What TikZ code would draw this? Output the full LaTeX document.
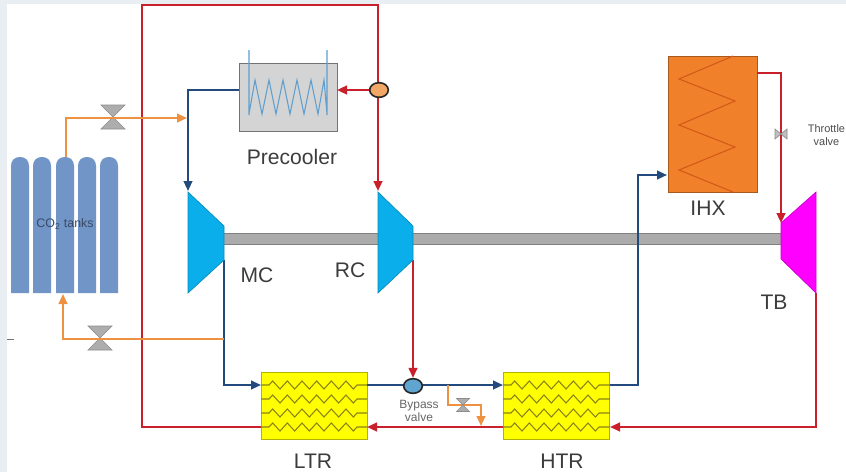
\documentclass[tikz,border=0pt]{standalone}
\usepackage{fontspec}
\setmainfont{Liberation Sans}
\usetikzlibrary{arrows.meta,decorations.pathmorphing,shapes.geometric}
\definecolor{redl}{HTML}{C9202B}
\definecolor{bluel}{HTML}{234A7C}
\definecolor{orangel}{HTML}{EE9140}
\definecolor{tankc}{HTML}{7095C6}
\definecolor{cyanT}{HTML}{0AAEEA}
\definecolor{coilz}{HTML}{8A8414}
\definecolor{txt}{HTML}{3C3C3C}
\definecolor{magT}{HTML}{FF00FF}
\definecolor{yelH}{HTML}{FFFF00}
\definecolor{ihxF}{HTML}{F0812A}
\definecolor{ihxC}{HTML}{D4581A}
\definecolor{preC}{HTML}{5F9FCF}
\definecolor{bgS}{HTML}{E9EEF2}
\definecolor{tankT}{HTML}{3A4A66}
\tikzset{
  x=0.75pt,y=-0.75pt,
  hot/.style={draw=redl,line width=1.6pt},
  cold/.style={draw=bluel,line width=1.5pt},
  feed/.style={draw=orangel,line width=1.5pt},
  arrowtip/.style={-{Triangle[length=7.5pt,width=6.5pt]}},
  hxbox/.style={draw=#1,line width=0.7pt,inner sep=0pt,anchor=north west},
  yellowhx/.style={hxbox=yelH!70!black,fill=yelH,minimum width=79.5pt,minimum height=50.5pt},
  zz/.style={draw=coilz,line width=0.8pt},
  zzline/.style={zz,decorate,decoration={zigzag,segment length=11pt,amplitude=3pt,pre length=6pt,post length=6pt}},
  lbl/.style={text=txt,font=\fontsize{15.8pt}{17pt}\selectfont,inner sep=0pt},
  smalllbl/.style={text=#1,font=\fontsize{9pt}{11pt}\selectfont,inner sep=0pt,align=center},
  smalllbl/.default=black!60,
  valvep/.style={fill=black!32,draw=black!45,line width=0.5pt},
  tank/.style={fill=tankc,draw=none},
  turb/.style={draw=#1!80!black,fill=#1,line width=0.5pt},
  circv/.style={ellipse,draw=black!85,line width=1.2pt,inner sep=0pt,minimum width=14pt,minimum height=11pt,fill=#1},
}
\newcommand{\valveshape}[3]{% x y half-height
  \draw[valvep] (#1-#3,#2-#3) -- (#1+#3,#2-#3) -- (#1-#3,#2+#3) -- (#1+#3,#2+#3) -- cycle;
}
\newcommand{\tankshape}[1]{%
  \fill[tank] (#1,293) -- (#1,166) .. controls (#1,160) and (#1+4,157) .. (#1+9,157) .. controls (#1+14,157) and (#1+18,160) .. (#1+18,166) -- (#1+18,293) -- cycle;
}
\begin{document}
\begin{tikzpicture}
\useasboundingbox (0,0) rectangle (846,472);
\clip (0,0) rectangle (846,472);
\fill[white] (0,0) rectangle (846,472);
\fill[bgS] (0,0) rectangle (846,4);
\fill[bgS] (0,0) rectangle (7,472);
\draw[black!55,line width=0.6pt] (7,339) -- (14,339);

% coordinates
\coordinate (tankTop) at (66,157);
\coordinate (feedC1) at (66,118);
\coordinate (feedEnd) at (187,118);
\coordinate (retEnd) at (63,294);
\coordinate (retC1) at (63,339);
\coordinate (mcTap) at (224,339);
\coordinate (topL) at (142,5);
\coordinate (topR) at (378,5);
\coordinate (botL) at (142,427);
\coordinate (rcIn) at (378,191);
\coordinate (mcIn) at (188,191);
\coordinate (preL) at (188,90);
\coordinate (mcOut) at (224,260);
\coordinate (mcC1) at (224,385);
\coordinate (rcOut) at (413,260);
\coordinate (ihxC1) at (638,385);
\coordinate (ihxC2) at (638,175);
\coordinate (ihxIn) at (667,175);
\coordinate (ihxOutC) at (781,73);
\coordinate (tbIn) at (781,223);
\coordinate (tbOut) at (816,293);
\coordinate (tbC) at (816,427);
\coordinate (byA) at (448,385);
\coordinate (byB) at (448,405);
\coordinate (byC) at (481,405);
\coordinate (byD) at (481,426);

% shaft
\fill[black!33] (224,233) rectangle (781,244);
\draw[black!50,line width=0.4pt] (224,233) -- (781,233) (224,244) -- (781,244);

% tanks
\tankshape{11}\tankshape{33}\tankshape{56}\tankshape{78}\tankshape{100}
\node[smalllbl=tankT,font=\fontsize{9.3pt}{11pt}\selectfont] (tanks) at (65,224) {CO\textsubscript{2} tanks};

% boxes
\node[hxbox=black!55,fill=black!17,minimum width=73.5pt,minimum height=51pt] (pre) at (239,63) {};
\node[yellowhx] (ltr) at (261,372) {};
\node[yellowhx] (htr) at (503,372) {};
\node[hxbox=ihxF!70!black,fill=ihxF,minimum width=66.75pt,minimum height=102pt] (ihx) at (668,56) {};

% named exchanger ports
\coordinate (ltrA) at (261,385); \coordinate (ltrB) at (367,385);
\coordinate (ltrC) at (261,427); \coordinate (ltrD) at (367,427);
\coordinate (htrA) at (503,385); \coordinate (htrB) at (610,385);
\coordinate (htrC) at (503,427); \coordinate (htrD) at (610,427);
\coordinate (preIn) at (337,90); \coordinate (preOut) at (239,90);
\coordinate (ihxOut) at (757,73);

% coils
\draw[draw=preC,line width=0.8pt]
  (249,50) -- (249,115) (327,50) -- (327,115)
  (249,114) -- (255,80) -- (262,114) -- (269,80) -- (276,114) -- (283,80) -- (290,114) -- (297,80) -- (304,114) -- (311,80) -- (318,114) -- (324,80) -- (327,114);
\foreach \yy in {385,399,413,427}{
  \draw[zzline] (261,\yy) -- (367,\yy);
  \draw[zzline] (503,\yy) -- (610,\yy);
}
\draw[draw=ihxC,line width=0.8pt]
  (733,56) -- (679,79) -- (735,101) -- (679,125) -- (735,147) -- (679,170) -- (733,192);

% cold lines
\draw[cold,arrowtip] (preOut) -- (preL) -- (mcIn);
\draw[cold,arrowtip] (mcOut) -- (mcC1) -- (ltrA);
\draw[cold,arrowtip] (ltrB) -- (htrA);
\draw[cold,arrowtip] (htrB) -- (ihxC1) -- (ihxC2) -- (ihxIn);

% hot lines
\draw[hot,arrowtip] (ltrC) -- (botL) -- (topL) -- (topR) -- (rcIn);
\node[circv=orangel!80!white] (split) at (379,90) {};
\draw[hot,arrowtip] (split) -- (preIn);
\node[circv=tankc!85!cyan] (bypass) at (413,386) {};
\draw[hot,arrowtip] (rcOut) -- (bypass.north);
\draw[hot,arrowtip] (ihxOut) -- (ihxOutC) -- (tbIn);
\draw[hot,arrowtip] (tbOut) -- (tbC) -- (htrD);
\draw[hot,arrowtip] (htrC) -- (ltrD);

% feed lines
\draw[feed,arrowtip] (tankTop) -- (feedC1) -- (feedEnd);
\draw[feed,arrowtip] (mcTap) -- (retC1) -- (retEnd);
\draw[feed,arrowtip] (byA) -- (byB) -- (byC) -- (byD);

% valves
\valveshape{113}{117}{12}
\draw[feed] (100,118) -- (126,118);
\valveshape{100}{338}{12}
\draw[feed] (88,339) -- (112,339);
\valveshape{463}{405}{6.5}
\draw[black!45,line width=0.5pt,fill=black!25] (775,129) -- (781,134) -- (775,139) -- cycle (787,129) -- (781,134) -- (787,139) -- cycle;

% machines
\draw[turb=cyanT] (188,192) -- (224,226) -- (224,260) -- (188,293) -- cycle;
\draw[turb=cyanT] (378,192) -- (413,226) -- (413,260) -- (378,293) -- cycle;
\draw[turb=magT] (781,223) -- (816,192) -- (816,293) -- (781,259) -- cycle;

% labels
\node[lbl] (lpre) at (292,157) {Precooler};
\node[lbl] (lmc) at (257,275) {MC};
\node[lbl] (lrc) at (350,270) {RC};
\node[lbl] (lihx) at (708,208) {IHX};
\node[lbl] (ltb) at (774,302) {TB};
\node[lbl] (lltr) at (313,461) {LTR};
\node[lbl] (lhtr) at (562,461) {HTR};
\node[smalllbl] (lby) at (419,411) {Bypass\\[-1pt]valve};
\node[smalllbl=black!70,font=\fontsize{8.2pt}{10pt}\selectfont] (lth) at (826.5,135) {Throttle\\valve};
\end{tikzpicture}
\end{document}
